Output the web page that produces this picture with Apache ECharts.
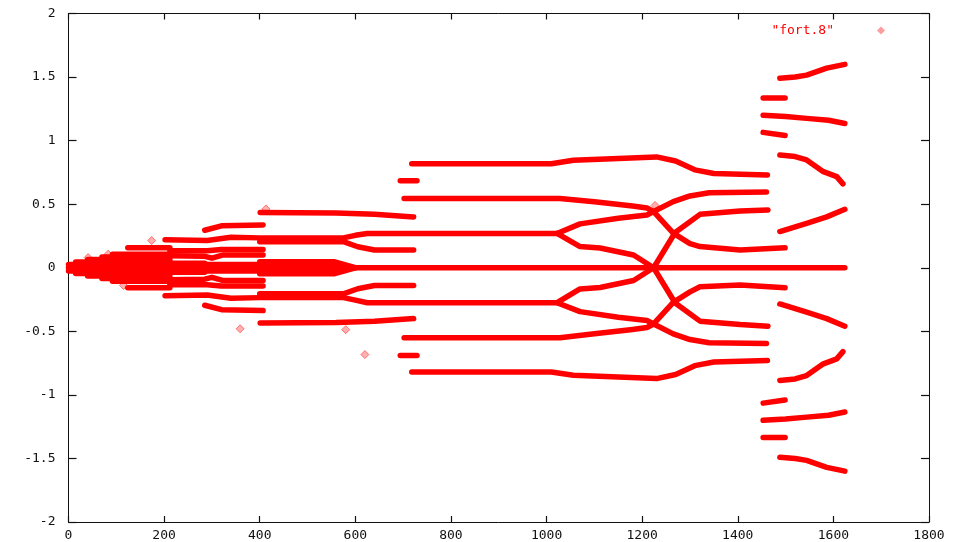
<!DOCTYPE html>
<html>
<head>
<meta charset="utf-8">
<script src="https://cdn.jsdelivr.net/npm/echarts@6/dist/echarts.min.js"></script>
<style>
html,body{margin:0;padding:0;background:#fff;}
#chart{width:954px;height:542px;}
</style>
</head>
<body>
<div id="chart"></div>
<script>
// Axis ranges and tick steps
const xRange = [0, 1800];
const xStep = 200;
const yRange = [-2, 2];
const yStep = 0.5;
const seriesName = '"fort.8"';

// Centre line
const centreLine = [[0, 0], [1624, 0]];

// Upper-half branches, [x, y] points
const upperBranches = [
  [[0, 0.025], [400, 0.025], [560, 0.025], [590, 0.0]],
  [[15, 0.045], [212, 0.045]],
  [[40, 0.065], [212, 0.065]],
  [[70, 0.085], [212, 0.085]],
  [[92, 0.107], [212, 0.107]],
  [[124, 0.157], [212, 0.157]],
  [[212, 0.035], [285, 0.035]],
  [[212, 0.095], [285, 0.09], [300, 0.075], [322, 0.10], [407, 0.10]],
  [[212, 0.133], [290, 0.133], [320, 0.144], [407, 0.144]],
  [[285, 0.295], [320, 0.33], [407, 0.337]],
  [[202, 0.22], [290, 0.215], [340, 0.24], [400, 0.235], [575, 0.235], [600, 0.255], [625, 0.27], [1022, 0.27], [1070, 0.345], [1150, 0.39], [1210, 0.415], [1223, 0.44], [1265, 0.52], [1300, 0.565], [1340, 0.59], [1460, 0.595]],
  [[400, 0.205], [575, 0.205], [605, 0.165], [640, 0.14], [722, 0.14]],
  [[400, 0.048], [555, 0.048], [600, 0.0]],
  [[401, 0.435], [560, 0.43], [640, 0.42], [722, 0.40]],
  [[694, 0.685], [729, 0.685]],
  [[718, 0.818], [1010, 0.818], [1056, 0.845], [1150, 0.86], [1230, 0.872], [1270, 0.84], [1310, 0.77], [1350, 0.742], [1462, 0.73]],
  [[702, 0.545], [1028, 0.545], [1100, 0.52], [1180, 0.485], [1210, 0.47], [1223, 0.445], [1265, 0.272], [1300, 0.19], [1321, 0.167], [1405, 0.14], [1499, 0.157]],
  [[1022, 0.27], [1070, 0.167], [1112, 0.155], [1182, 0.10], [1224, 0.0], [1269, -0.277], [1321, -0.42], [1405, -0.447], [1463, -0.46]],
  [[1453, 1.335], [1499, 1.335]],
  [[1453, 1.065], [1499, 1.04]],
  [[1453, 1.20], [1500, 1.19], [1544, 1.175], [1590, 1.16], [1624, 1.135]],
  [[1488, 1.49], [1520, 1.50], [1544, 1.515], [1586, 1.57], [1624, 1.60]],
  [[1488, 0.887], [1520, 0.875], [1544, 0.848], [1579, 0.756], [1607, 0.717], [1620, 0.66]],
  [[1488, 0.285], [1544, 0.35], [1586, 0.40], [1624, 0.46]]
];

// Lower-half branches
const lowerBranches = [
  [[0, -0.025], [400, -0.025], [560, -0.025], [590, 0.0]],
  [[15, -0.045], [212, -0.045]],
  [[40, -0.065], [212, -0.065]],
  [[70, -0.085], [212, -0.085]],
  [[92, -0.107], [212, -0.107]],
  [[124, -0.157], [212, -0.157]],
  [[212, -0.035], [285, -0.035]],
  [[212, -0.095], [285, -0.09], [300, -0.075], [322, -0.10], [407, -0.10]],
  [[212, -0.133], [290, -0.133], [320, -0.144], [407, -0.144]],
  [[285, -0.295], [320, -0.33], [407, -0.337]],
  [[202, -0.22], [290, -0.215], [340, -0.24], [400, -0.235], [575, -0.235], [600, -0.255], [625, -0.275], [1022, -0.275], [1070, -0.345], [1150, -0.39], [1210, -0.415], [1223, -0.44], [1265, -0.52], [1300, -0.565], [1340, -0.59], [1460, -0.595]],
  [[400, -0.205], [575, -0.205], [605, -0.165], [640, -0.14], [722, -0.14]],
  [[400, -0.048], [555, -0.048], [600, 0.0]],
  [[401, -0.435], [560, -0.43], [640, -0.42], [722, -0.40]],
  [[694, -0.69], [729, -0.69]],
  [[718, -0.82], [1010, -0.82], [1056, -0.845], [1150, -0.86], [1230, -0.872], [1270, -0.84], [1310, -0.77], [1350, -0.742], [1462, -0.73]],
  [[702, -0.55], [1028, -0.55], [1100, -0.52], [1180, -0.485], [1210, -0.47], [1223, -0.445], [1265, -0.272], [1300, -0.19], [1321, -0.15], [1405, -0.135], [1499, -0.157]],
  [[1022, -0.275], [1070, -0.167], [1112, -0.155], [1182, -0.10], [1224, 0.0], [1269, 0.277], [1321, 0.42], [1405, 0.447], [1463, 0.455]],
  [[1453, -1.335], [1499, -1.335]],
  [[1453, -1.065], [1499, -1.04]],
  [[1453, -1.20], [1500, -1.19], [1544, -1.175], [1590, -1.16], [1624, -1.135]],
  [[1488, -1.49], [1520, -1.50], [1544, -1.515], [1586, -1.57], [1624, -1.60]],
  [[1488, -0.887], [1520, -0.875], [1544, -0.848], [1579, -0.756], [1607, -0.717], [1620, -0.66]],
  [[1488, -0.285], [1544, -0.35], [1586, -0.40], [1624, -0.46]]
];

// Isolated single points
const strayPoints = [[41, 0.08], [83, 0.107], [115, -0.139], [174, 0.214], [359, -0.48], [413, 0.463], [580, -0.487], [620, -0.683], [1227, 0.49]];

const RED = '#ff0000';
const MONO = '"DejaVu Sans Mono", "Liberation Mono", monospace';

const allBranches = [centreLine].concat(upperBranches, lowerBranches);
const series = allBranches.map(function (b) {
  return {
    name: seriesName,
    type: 'line',
    data: b,
    showSymbol: false,
    silent: true,
    animation: false,
    itemStyle: { color: RED },
    lineStyle: { color: RED, width: 5.5, cap: 'round', join: 'round' }
  };
});
series.push({
  name: seriesName,
  type: 'scatter',
  data: strayPoints,
  symbol: 'diamond',
  symbolSize: 8,
  silent: true,
  animation: false,
  itemStyle: { color: 'rgba(255,90,90,0.6)', borderColor: 'rgba(255,0,0,0.6)', borderWidth: 1 }
});

const plain = function (v) { return String(v); };
function makeAxis(type, position, tickLen, showLabel, margin) {
  return {
    type: 'value',
    position: position,
    min: type === 'x' ? xRange[0] : yRange[0],
    max: type === 'x' ? xRange[1] : yRange[1],
    interval: type === 'x' ? xStep : yStep,
    axisLine: { show: true, onZero: false, lineStyle: { color: '#111', width: 1 } },
    axisTick: { show: true, inside: true, length: tickLen, lineStyle: { color: '#111', width: 1.2 } },
    splitLine: { show: false },
    axisLabel: showLabel
      ? { show: true, color: '#111', fontFamily: MONO, fontSize: 13, margin: margin, formatter: plain }
      : { show: false }
  };
}

const chart = echarts.init(document.getElementById('chart'), null, { renderer: 'canvas' });
chart.setOption({
  animation: false,
  backgroundColor: '#fff',
  grid: { left: 68.5, right: 25, top: 13.5, bottom: 19 },
  legend: {
    data: [{ name: seriesName, icon: 'diamond', itemStyle: { color: 'rgba(255,90,90,0.6)' } }],
    right: 64,
    top: 19,
    align: 'right',
    itemWidth: 8,
    itemHeight: 8,
    selectedMode: false,
    textStyle: { color: RED, fontFamily: MONO, fontSize: 13, padding: [0, 38, 0, 0] }
  },
  xAxis: [
    makeAxis('x', 'bottom', 6, true, 7),
    makeAxis('x', 'top', 6, false, 0)
  ],
  yAxis: [
    makeAxis('y', 'left', 8, true, 13),
    makeAxis('y', 'right', 8, false, 0)
  ],
  series: series
});
</script>
</body>
</html>
